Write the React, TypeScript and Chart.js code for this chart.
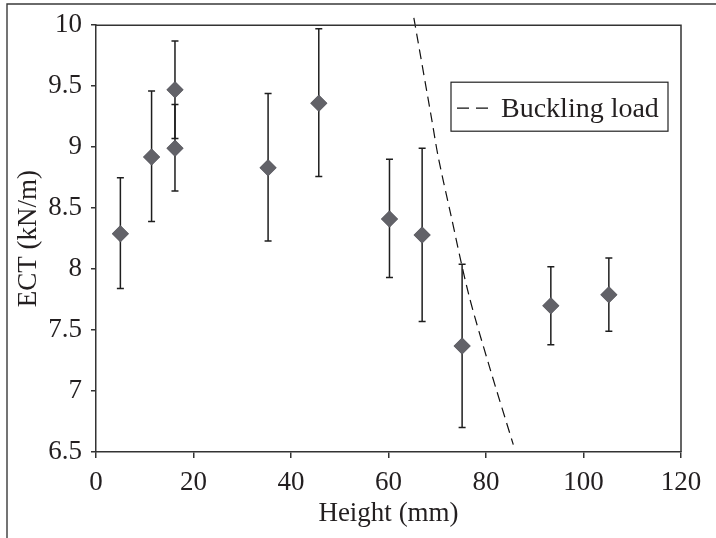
import React, { useEffect, useRef } from 'react';
import { Chart, registerables } from 'chart.js';

Chart.register(...registerables);

// Measured specimens
const heights = [5.0, 11.4, 16.2, 16.2, 35.3, 45.7, 60.2, 66.9, 75.1, 93.3, 105.2];
const ectMean = [8.29, 8.92, 8.99, 9.47, 8.83, 9.36, 8.41, 8.28, 7.37, 7.70, 7.79];
const ectHigh = [8.75, 9.46, 9.35, 9.87, 9.44, 9.97, 8.90, 8.99, 8.04, 8.02, 8.09];
const ectLow = [7.84, 8.39, 8.64, 9.07, 8.23, 8.76, 7.93, 7.57, 6.70, 7.38, 7.49];

// Buckling load curve
const bucklingHeights = [65.2, 68.9, 70.2, 72.6, 76.4, 80.7, 85.6];
const bucklingLoad = [10.06, 9.22, 8.92, 8.48, 7.80, 7.20, 6.56];

const xMin = 0;
const xMax = 120;
const xStep = 20;
const yMin = 6.5;
const yMax = 10;
const yStep = 0.5;

const legendLabel = 'Buckling load';
const xTitle = 'Height (mm)';
const yTitle = 'ECT (kN/m)';

const FONT = '"Liberation Serif", "Times New Roman", serif';
const TEXT = '#231f20';
const AXIS = '#333333';
const FS = 27;

const errorBarPlugin = {
  id: 'errorBars',
  afterDatasetsDraw(chart: any) {
    const ctx = chart.ctx;
    const xs = chart.scales.x;
    const ys = chart.scales.y;
    ctx.save();
    ctx.strokeStyle = '#1e1e1e';
    ctx.lineWidth = 1.5;
    for (let i = 0; i < heights.length; i++) {
      const px = xs.getPixelForValue(heights[i]);
      const pHi = ys.getPixelForValue(ectHigh[i]);
      const pLo = ys.getPixelForValue(ectLow[i]);
      ctx.beginPath();
      ctx.moveTo(px, pHi);
      ctx.lineTo(px, pLo);
      ctx.moveTo(px - 3.5, pHi);
      ctx.lineTo(px + 3.5, pHi);
      ctx.moveTo(px - 3.5, pLo);
      ctx.lineTo(px + 3.5, pLo);
      ctx.stroke();
    }
    // redraw diamonds on top of the bars
    const meta = chart.getDatasetMeta(1);
    ctx.fillStyle = '#626268';
    meta.data.forEach((pt: any) => {
      const r = 8.5;
      ctx.beginPath();
      ctx.moveTo(pt.x, pt.y - r);
      ctx.lineTo(pt.x + r, pt.y);
      ctx.lineTo(pt.x, pt.y + r);
      ctx.lineTo(pt.x - r, pt.y);
      ctx.closePath();
      ctx.fill();
    });
    ctx.restore();
  },
};

const decorPlugin = {
  id: 'decor',
  afterDraw(chart: any) {
    const ctx = chart.ctx;
    const a = chart.chartArea;
    ctx.save();
    // outer frame (left and top)
    ctx.strokeStyle = '#3a3a3a';
    ctx.lineWidth = 1.4;
    ctx.beginPath();
    ctx.moveTo(7, 538);
    ctx.lineTo(7, 4);
    ctx.lineTo(716, 4);
    ctx.stroke();

    // plot frame top & right
    ctx.strokeStyle = AXIS;
    ctx.lineWidth = 1.5;
    ctx.beginPath();
    ctx.moveTo(a.left, a.top);
    ctx.lineTo(a.right, a.top);
    ctx.lineTo(a.right, a.bottom);
    ctx.stroke();

    // legend box
    const bx = a.right - 230;
    const by = a.top + 57;
    const bw = 217;
    const bh = 49;
    ctx.strokeStyle = '#222';
    ctx.lineWidth = 1.2;
    ctx.fillStyle = '#ffffff';
    ctx.fillRect(bx, by, bw, bh);
    ctx.strokeRect(bx, by, bw, bh);
    ctx.setLineDash([12, 7]);
    ctx.lineWidth = 1.2;
    ctx.strokeStyle = '#111';
    ctx.beginPath();
    ctx.moveTo(bx + 6, by + 26);
    ctx.lineTo(bx + 43, by + 26);
    ctx.stroke();
    ctx.setLineDash([]);
    ctx.fillStyle = TEXT;
    ctx.font = `${FS + 1}px ${FONT}`;
    ctx.textAlign = 'left';
    ctx.textBaseline = 'alphabetic';
    ctx.fillText(legendLabel, bx + 50, by + 35);

    // axis titles
    ctx.font = `${FS}px ${FONT}`;
    ctx.textAlign = 'center';
    ctx.fillText(xTitle, (a.left + a.right) / 2, 521);
    ctx.translate(36, (a.top + a.bottom) / 2);
    ctx.rotate(-Math.PI / 2);
    ctx.fillText(yTitle, 0, 0);
    ctx.restore();
  },
};

export default function App() {
  const canvasRef = useRef<HTMLCanvasElement | null>(null);

  useEffect(() => {
    if (!canvasRef.current) return;
    const chart = new Chart(canvasRef.current, {
      type: 'scatter',
      data: {
        datasets: [
          {
            label: legendLabel,
            data: bucklingHeights.map((h, i) => ({ x: h, y: bucklingLoad[i] })),
            showLine: true,
            borderColor: '#111111',
            borderWidth: 1.2,
            borderDash: [10, 6],
            pointRadius: 0,
            fill: false,
            tension: 0.3,
            clip: false as any,
          },
          {
            label: 'ECT',
            data: heights.map((h, i) => ({ x: h, y: ectMean[i] })),
            pointStyle: 'rectRot',
            pointRadius: 8.5,
            pointBackgroundColor: '#626268',
            pointBorderWidth: 0,
            showLine: false,
          },
        ],
      },
      options: {
        responsive: false,
        animation: false,
        layout: { padding: { top: 24, right: 35, left: 0, bottom: 0 } },
        plugins: {
          legend: { display: false },
          tooltip: { enabled: false },
        },
        scales: {
          x: {
            type: 'linear',
            min: xMin,
            max: xMax,
            afterFit: (s: any) => {
              s.height = 86;
            },
            ticks: {
              stepSize: xStep,
              color: TEXT,
              font: { family: FONT, size: FS },
              padding: 9,
              maxRotation: 0,
              callback: (v: any) => `${+v}`,
            },
            grid: {
              display: true,
              drawOnChartArea: false,
              drawTicks: true,
              tickLength: 6,
              tickColor: AXIS,
              lineWidth: 1.5,
            },
            border: { display: true, color: AXIS, width: 1.5 },
          },
          y: {
            type: 'linear',
            min: yMin,
            max: yMax,
            afterFit: (s: any) => {
              s.width = 96;
            },
            ticks: {
              stepSize: yStep,
              color: TEXT,
              font: { family: FONT, size: FS },
              padding: 9,
              callback: (v: any) => `${+v}`,
            },
            grid: {
              display: true,
              drawOnChartArea: false,
              drawTicks: true,
              tickLength: 5,
              tickColor: AXIS,
              lineWidth: 1.5,
            },
            border: { display: true, color: AXIS, width: 1.5 },
          },
        },
      },
      plugins: [errorBarPlugin, decorPlugin],
    });
    return () => chart.destroy();
  }, []);

  return (
    <div style={{ position: 'absolute', left: 0, top: 0, width: 716, height: 538, background: '#fff' }}>
      <canvas ref={canvasRef} width={716} height={538} />
    </div>
  );
}
